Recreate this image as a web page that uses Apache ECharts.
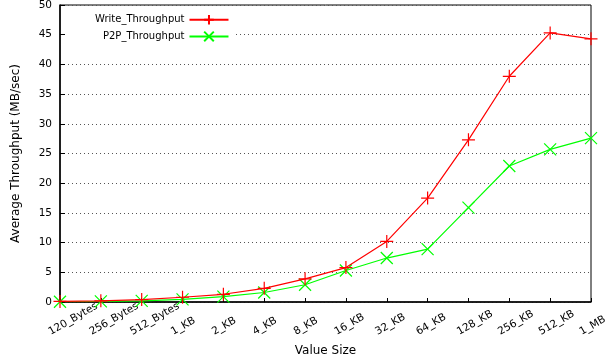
<!DOCTYPE html>
<html><head><meta charset="utf-8">
<script src="https://cdn.jsdelivr.net/npm/echarts@6/dist/echarts.min.js"></script>
<style>html,body{margin:0;padding:0;background:#fff}#c{width:608px;height:358px}</style>
</head><body><div id="c"></div>
<script>
const categories = ['120_Bytes','256_Bytes','512_Bytes','1_KB','2_KB','4_KB','8_KB','16_KB','32_KB','64_KB','128_KB','256_KB','512_KB','1_MB'];
const writeThroughput = [0.1,0.2,0.4,0.8,1.3,2.3,3.9,5.8,10.2,17.5,27.3,38.0,45.3,44.3];
const p2pThroughput = [0.05,0.1,0.2,0.45,0.9,1.6,2.9,5.3,7.4,8.9,15.9,22.9,25.7,27.6];
const yTicks = {min:0, max:50, interval:5};

const font = 'DejaVu Sans';
const plus = 'path://M5,0L5,10M0,5L10,5';
const cross = 'path://M0,0L10,10M0,10L10,0';
const chart = echarts.init(document.getElementById('c'));
chart.setOption({
  animation:false,
  textStyle:{fontFamily:font},
  grid:{left:60,right:17,top:5,bottom:56,containLabel:false,outerBoundsMode:'none',
        show:true,borderColor:'#000',borderWidth:1,backgroundColor:'transparent'},
  legend:{
    left:66, top:10, orient:'vertical', align:'right', itemGap:5,
    itemWidth:39, itemHeight:12, backgroundColor:'#fff', padding:[4,5,4,29],
    textStyle:{fontFamily:font,fontSize:10,color:'#000',padding:[0,0,0,0]},
    data:['Write_Throughput','P2P_Throughput']
  },
  xAxis:{
    type:'category', data:categories, boundaryGap:false,
    name:'Value Size', nameLocation:'middle', nameGap:43,
    nameTextStyle:{fontFamily:font,fontSize:12,color:'#000'},
    axisLine:{lineStyle:{color:'#000',width:1.5}},
    axisTick:{inside:true,length:4,lineStyle:{color:'#000'}},
    axisLabel:{rotate:30,fontSize:10.5,color:'#000',fontFamily:font,interval:0,margin:31,
               align:'left',verticalAlign:'bottom',padding:[0,0,0,-9],hideOverlap:false},
    splitLine:{show:false}
  },
  yAxis:{
    type:'value', min:yTicks.min, max:yTicks.max, interval:yTicks.interval,
    name:'Average Throughput (MB/sec)', nameLocation:'middle', nameGap:38,
    nameTextStyle:{fontFamily:font,fontSize:12,color:'#000'},
    axisLine:{show:true,lineStyle:{color:'#000',width:1.5}},
    axisTick:{show:true,inside:true,length:5,lineStyle:{color:'#000'}},
    axisLabel:{fontSize:10.5,color:'#000',fontFamily:font,margin:8},
    splitLine:{show:true,lineStyle:{color:'#555',type:[1,3],width:1}}
  },
  series:[
    {name:'Write_Throughput',type:'line',data:writeThroughput,symbol:plus,symbolSize:13,
     lineStyle:{color:'#ff0000',width:1.2},
     itemStyle:{color:'#ff0000',borderColor:'#ff0000',borderWidth:1.2},z:3},
    {name:'P2P_Throughput',type:'line',data:p2pThroughput,symbol:cross,symbolSize:12,
     lineStyle:{color:'#00ff00',width:1.2},
     itemStyle:{color:'#00ff00',borderColor:'#00ff00',borderWidth:1.2},z:2}
  ]
});
</script></body></html>
